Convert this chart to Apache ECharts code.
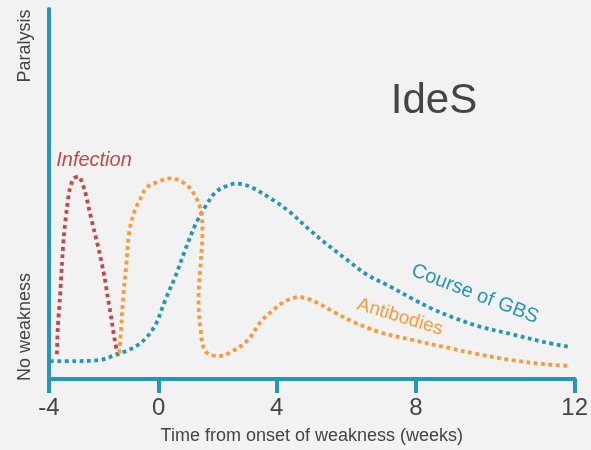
<!DOCTYPE html>
<html>
<head>
<meta charset="utf-8">
<script src="https://cdn.jsdelivr.net/npm/echarts@6/dist/echarts.min.js"></script>
<style>
  html, body { margin: 0; padding: 0; background: #f2f2f2; }
  #chart { width: 591px; height: 450px; }
</style>
</head>
<body>
<div id="chart"></div>
<script>
// Tick marks on the time axis (positions along the drawn axis and their labels)
const tickPositions = [-4, -0.66, 2.93, 7.17, 12];
const tickLabels = ['-4', '0', '4', '8', '12'];

// Course of GBS: [time, severity]
const gbsTime = [-3.97, -3.22, -2.46, -2.07, -1.65, -1.35, -1.05, -0.75, -0.45, -0.15, 0.15, 0.46, 0.76, 1.06, 1.36, 1.69, 2.11, 2.80, 3.35, 3.92, 4.46, 5.06, 5.66, 6.36, 7.08, 7.68, 8.28, 9.06, 10.09, 11.08, 11.89];
const gbsLevel = [4.85, 4.85, 5.12, 6.2, 7.55, 8.89, 11.05, 14.8, 21.6, 27.8, 35.0, 41.8, 46.6, 50.4, 52.0, 52.8, 52.0, 48.5, 45.0, 40.4, 36.4, 32.3, 28.3, 25.1, 21.6, 18.9, 16.7, 14.3, 12.1, 9.97, 8.6];

// Infection
const infTime = [-3.76, -3.73, -3.67, -3.61, -3.55, -3.46, -3.37, -3.25, -3.10, -2.92, -2.77, -2.62, -2.46, -2.31, -2.22, -2.10, -2.01, -1.92];
const infLevel = [6.7, 14.3, 21.6, 30.5, 38.5, 45.8, 51.2, 54.2, 54.7, 51.2, 45.5, 39.9, 34.0, 27.5, 22.6, 16.2, 11.1, 7.0];

// Antibodies
const abTime = [-1.86, -1.80, -1.74, -1.65, -1.56, -1.41, -1.26, -1.02, -0.66, -0.30, 0.09, 0.39, 0.61, 0.67, 0.61, 0.55, 0.61, 0.76, 1.15, 1.54, 2.05, 2.44, 2.86, 3.25, 3.65, 4.07, 4.67, 5.27, 6.05, 7.08, 8.07, 9.06, 10.09, 11.08, 11.83];
const abLevel = [7.0, 14.3, 22.4, 30.5, 39.6, 45.0, 48.0, 51.8, 53.4, 54.2, 53.1, 50.4, 45.8, 39.6, 30.5, 21.6, 13.5, 7.5, 6.2, 7.3, 10.5, 15.4, 18.9, 21.3, 22.1, 21.0, 18.1, 15.4, 12.7, 10.5, 8.6, 6.7, 5.1, 4.0, 3.5];

const BLUE = '#2596b9';
const ORANGE = '#f89a3e';
const RED = '#c2484b';
const TEXT = '#444444';
const FONT = '"Liberation Sans", Arial, Helvetica, sans-serif';

const zip = (xs, ys) => xs.map((x, i) => [x, ys[i]]);

const dotted = (color) => ({
  color: color,
  width: 3.8,
  type: [3.8, 3.6],
  cap: 'butt'
});

const chart = echarts.init(document.getElementById('chart'), null, { renderer: 'canvas' });

chart.setOption({
  backgroundColor: '#f2f2f2',
  animation: false,
  grid: { left: 49, right: 10.5, top: 9, bottom: 69.5 },
  xAxis: {
    type: 'value',
    min: -4,
    max: 12,
    axisLine: { show: true, onZero: false, lineStyle: { color: BLUE, width: 4 } },
    axisTick: {
      show: true,
      customValues: tickPositions,
      length: 14,
      lineStyle: { color: BLUE, width: 4 }
    },
    axisLabel: {
      customValues: tickPositions,
      formatter: (v) => {
        const i = tickPositions.findIndex(p => Math.abs(p - v) < 1e-6);
        return i >= 0 ? tickLabels[i] : '';
      },
      color: TEXT,
      fontSize: 24,
      fontFamily: FONT,
      margin: 17
    },
    splitLine: { show: false },
    name: 'Time from onset of weakness (weeks)',
    nameLocation: 'middle',
    nameGap: 48,
    nameTextStyle: { color: TEXT, fontSize: 18, fontFamily: FONT }
  },
  yAxis: {
    type: 'value',
    min: 0,
    max: 100,
    axisLine: { show: true, onZero: false, lineStyle: { color: BLUE, width: 4 } },
    axisTick: { show: false },
    axisLabel: { show: false },
    splitLine: { show: false }
  },
  series: [
    {
      name: 'Course of GBS',
      type: 'line',
      data: zip(gbsTime, gbsLevel),
      smooth: 0.35,
      showSymbol: false,
      lineStyle: dotted(BLUE),
      z: 3
    },
    {
      name: 'Infection',
      type: 'line',
      data: zip(infTime, infLevel),
      smooth: 0.25,
      showSymbol: false,
      lineStyle: dotted(RED),
      z: 4
    },
    {
      name: 'Antibodies',
      type: 'line',
      data: zip(abTime, abLevel),
      smooth: 0.35,
      showSymbol: false,
      lineStyle: dotted(ORANGE),
      z: 4
    }
  ],
  graphic: [
    {
      type: 'text', x: 25, y: 46, rotation: Math.PI / 2,
      style: { text: 'Paralysis', fill: TEXT, font: '18px ' + FONT, textAlign: 'center', textVerticalAlign: 'middle' }
    },
    {
      type: 'text', x: 25, y: 327, rotation: Math.PI / 2,
      style: { text: 'No weakness', fill: TEXT, font: '18px ' + FONT, textAlign: 'center', textVerticalAlign: 'middle' }
    },
    {
      type: 'text', x: 434, y: 101,
      style: { text: 'IdeS', fill: TEXT, font: '42px ' + FONT, textAlign: 'center', textVerticalAlign: 'middle' }
    },
    {
      type: 'text', x: 94, y: 160,
      style: { text: 'Infection', fill: RED, font: 'italic 20px ' + FONT, textAlign: 'center', textVerticalAlign: 'middle' }
    },
    {
      type: 'text', x: 475, y: 294, rotation: -21 * Math.PI / 180,
      style: { text: 'Course of GBS', fill: BLUE, font: '20px ' + FONT, textAlign: 'center', textVerticalAlign: 'middle' }
    },
    {
      type: 'text', x: 400, y: 317, rotation: -17 * Math.PI / 180,
      style: { text: 'Antibodies', fill: ORANGE, font: '19px ' + FONT, textAlign: 'center', textVerticalAlign: 'middle' }
    }
  ]
});
</script>
</body>
</html>
